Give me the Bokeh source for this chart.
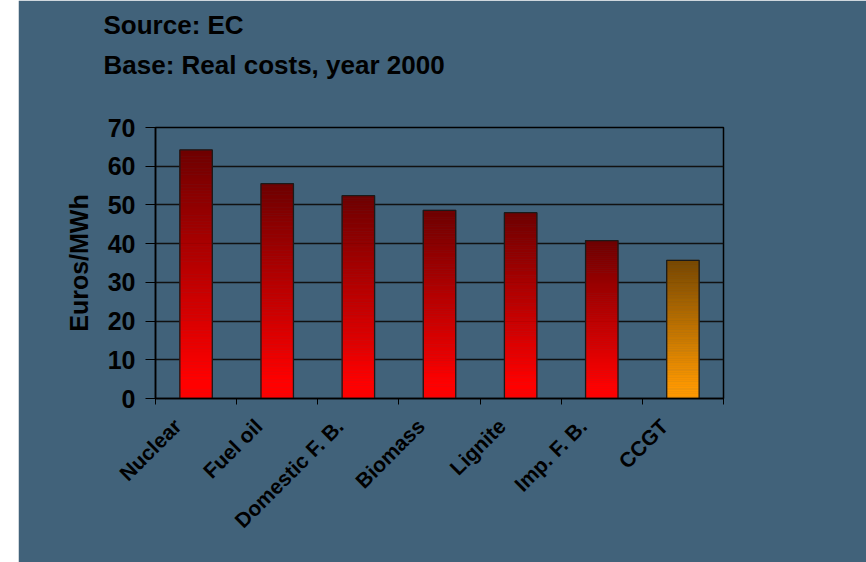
import numpy as np
from bokeh.plotting import figure
from bokeh.models import FixedTicker, Spacer
from bokeh.layouts import row
from bokeh.embed import file_html
from bokeh.resources import INLINE

# ---- data ----
categories = ["Nuclear", "Fuel oil", "Domestic F. B.", "Biomass", "Lignite", "Imp. F. B.", "CCGT"]
costs = [64.2, 55.5, 52.4, 48.6, 48.0, 40.8, 35.7]
y_ticks = [0, 10, 20, 30, 40, 50, 60, 70]
title_lines = ["Source: EC", "Base: Real costs, year 2000"]
y_label = "Euros/MWh"

# ---- styles ----
BG = "#41627A"
FONT = "Liberation Sans"
RED_TOP, RED_BOTTOM = (110, 0, 0), (255, 0, 0)
ORG_TOP, ORG_BOTTOM = (120, 72, 0), (255, 153, 0)
N_SLICES = 80
LABEL_SHIFT = 0.23  # horizontal anchor shift of rotated category labels

p = figure(x_range=(0, len(categories)), y_range=(y_ticks[0], y_ticks[-1]),
           frame_width=568, frame_height=271,
           min_border_left=137, min_border_right=143,
           min_border_top=127, min_border_bottom=164,
           output_backend="svg", toolbar_location=None,
           background_fill_color=BG, border_fill_color=BG)
p.outline_line_color = "black"
p.outline_line_width = 1.5

# title (two lines, trailing blank line keeps a gap above the plot box)
p.title.text = "\n".join(title_lines) + "\n"
p.title.align = "left"
p.title.offset = -52
p.title.text_font = FONT
p.title.text_font_style = "bold"
p.title.text_font_size = "26px"
p.title.text_color = "black"
p.title.text_line_height = 1.34
p.title.standoff = 14


def mix(c0, c1, t):
    return "#%02x%02x%02x" % tuple(int(round(a + (b - a) * t)) for a, b in zip(c0, c1))


xs, bottoms, tops, colors = [], [], [], []
for i, (cat, v) in enumerate(zip(categories, costs)):
    top_c, bot_c = (ORG_TOP, ORG_BOTTOM) if cat == "CCGT" else (RED_TOP, RED_BOTTOM)
    for k in range(N_SLICES):
        t = (k + 0.5) / N_SLICES  # 0 bottom -> 1 top
        tt = max(0.0, (t - 0.08) / 0.92)
        xs.append(i + 0.5)
        bottoms.append(v * k / N_SLICES)
        tops.append(v * (k + 1) / N_SLICES)
        colors.append(mix(bot_c, top_c, tt))

p.vbar(x=xs, bottom=bottoms, top=tops, width=0.4, fill_color=colors, line_color=colors, line_width=0.6)
x_centers = [i + 0.5 for i in range(len(categories))]
p.vbar(x=x_centers, bottom=0, top=costs, width=0.4, fill_color=None, line_color="#1a1a1a", line_width=1.3)

# grids
p.xgrid.grid_line_color = None
p.ygrid.grid_line_color = "#111111"
p.ygrid.grid_line_width = 1.5
p.ygrid.ticker = FixedTicker(ticks=y_ticks)

# x axis
label_pos = [x - LABEL_SHIFT for x in x_centers]
xax = p.xaxis[0]
xax.ticker = FixedTicker(ticks=label_pos, minor_ticks=list(range(len(categories) + 1)))
xax.major_label_overrides = {x: c for x, c in zip(label_pos, categories)}
xax.major_tick_out = 0
xax.major_tick_in = 0
xax.minor_tick_out = 6
xax.minor_tick_in = 0
xax.minor_tick_line_color = "black"
xax.axis_line_color = "black"
xax.axis_line_width = 1.5
xax.major_label_orientation = np.pi / 4
xax.major_label_text_font = FONT
xax.major_label_text_font_style = "bold"
xax.major_label_text_font_size = "21px"
xax.major_label_text_color = "black"
xax.major_label_standoff = 18

# y axis
yax = p.yaxis[0]
yax.ticker = FixedTicker(ticks=y_ticks)
yax.major_tick_out = 10
yax.major_tick_in = 0
yax.major_tick_line_color = "black"
yax.minor_tick_line_color = None
yax.axis_line_color = "black"
yax.axis_line_width = 1.5
yax.major_label_text_font = FONT
yax.major_label_text_font_style = "bold"
yax.major_label_text_font_size = "25px"
yax.major_label_text_color = "black"
yax.major_label_standoff = 10
yax.axis_label = y_label
yax.axis_label_text_font = FONT
yax.axis_label_text_font_style = "bold"
yax.axis_label_text_font_size = "25px"
yax.axis_label_text_color = "black"
yax.axis_label_standoff = 12

layout = row(Spacer(width=18, height=562), p)
open("out.html", "w").write(file_html(layout, INLINE))
